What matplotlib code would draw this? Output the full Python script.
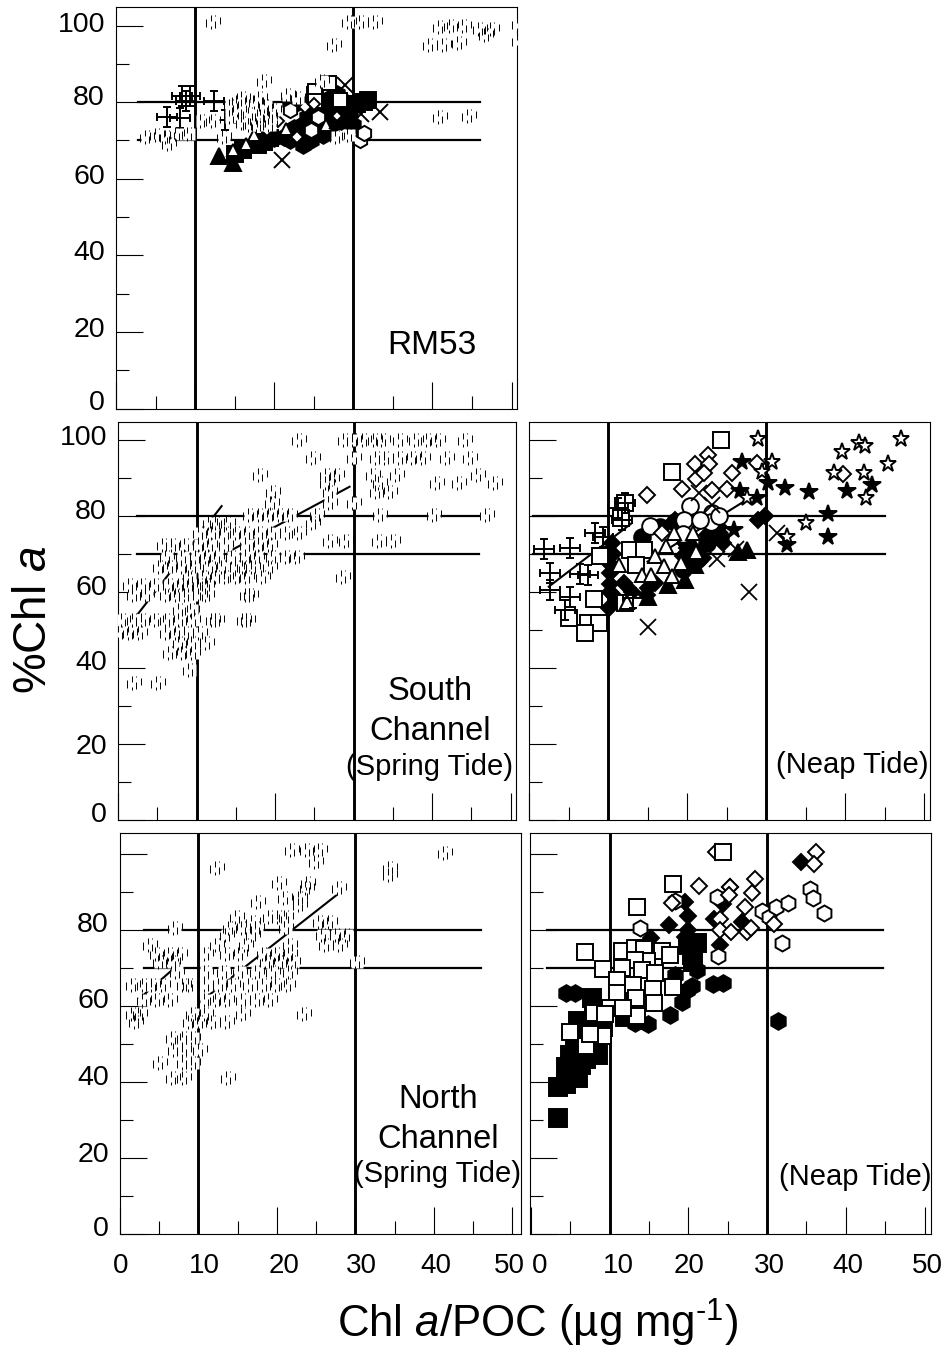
import matplotlib
matplotlib.use('Agg')
import matplotlib.pyplot as plt
from matplotlib.path import Path
from matplotlib.transforms import ScaledTranslation

plt.rcParams['font.family'] = ['Liberation Sans', 'DejaVu Sans']
plt.rcParams['mathtext.fontset'] = 'custom'
plt.rcParams['mathtext.rm'] = 'Liberation Sans'
plt.rcParams['mathtext.it'] = 'Liberation Sans:italic'

W, H = 945, 1347

x_major = [0, 10, 20, 30, 40, 50]
x_minor = [5, 15, 25, 35, 45]
y_major = [0, 20, 40, 60, 80, 100]
y_minor = [10, 30, 50, 70, 90]

# RM53
rm_filled_tri = [(13, 65.8), (14.8, 64)]
rm_open_tri = [(14.8, 67.5), (16.4, 69.1), (17.4, 71.4), (21.5, 73), (26.5, 74)]
rm_filled_sq = [(16.1, 67.5), (18, 68.8), (18.7, 69.7), (31.9, 80.6), (31.3, 80.1), (25.2, 81.9),
                (27.5, 80), (29.5, 78), (30.5, 79.5), (19.5, 70.5), (15, 66.5)]
rm_open_sq = [(26.9, 85), (25.2, 83), (25.2, 80.2), (28.3, 80.6)]
rm_filled_hex = [(22, 70.1), (23.7, 68.8), (21.2, 71), (26.2, 71.4), (24.6, 70.1), (25.4, 73.6), (27.5, 74.5),
                 (22.5, 73.2), (24.1, 76.2), (25.8, 79.7), (27.1, 78.8), (29.2, 79.7), (29.6, 77.1), (20, 70.5),
                 (23, 71.5), (24, 72.5), (26.5, 72.5), (27, 76), (28.5, 75), (23.5, 74), (26, 77), (30, 74),
                 (28.5, 78), (27, 81), (28, 82), (24.5, 78.5), (25, 75), (22, 80), (23, 80)]
rm_open_hex = [(22, 78), (24.6, 72.7), (25.6, 76.2), (30.9, 70.1), (31.3, 72)]
rm_open_dia = [(22.9, 71), (23.9, 78.8), (19.1, 72.7), (25, 79.5), (28, 76), (20.5, 75)]
rm_cross = [(8.4, 81.5), (8.9, 80.2), (9.3, 81.5), (12.4, 80.2), (6.5, 76.2), (8.1, 75.8), (13.8, 75.4)]
rm_x = [(21, 64.9), (33.4, 77.5), (29, 84.5), (31, 77), (28, 75)]
rm_speck = [(12.3, 100.8), (29.4, 100.8), (31, 100.8), (32.8, 100.8), (41, 99.5), (42.4, 100), (44, 100),
            (46, 99), (47.5, 99), (46.8, 97.5), (51, 100.5), (51, 96), (39.7, 95), (41.5, 95), (43.3, 95.5),
            (27.5, 95), (41, 76), (44.6, 76.5), (18.7, 85.5), (3.9, 71), (5.2, 71.5), (6.4, 71), (7.7, 71.8),
            (9.2, 71.8), (6.7, 69), (10.9, 75), (12.3, 75), (13.6, 71), (16, 81), (17.7, 80), (18.2, 81),
            (15.5, 78), (17, 77), (18.5, 76.5), (20, 78), (16, 74.5), (18, 74), (21.8, 81.9), (23, 81),
            (27.9, 71), (29.5, 71.5), (26, 85.5), (14.5, 79), (15.5, 80.5), (19, 79), (19.5, 76), (17, 74),
            (19.5, 74), (14.5, 76)]

# South channel, spring tide: (y, x values) per row
south_rows = [
    (100, [23, 28.9, 30, 31.3, 32.7, 33.8, 35.9, 38, 39.5, 40.8, 44.2]),
    (95.2, [24.9, 30, 33, 34.2, 35.9, 37.6, 38.9, 41.9, 44.8]),
    (90.8, [18.1, 45.9, 35.5, 32.5, 26.6, 27.9]),
    (88.6, [40.6, 43.4, 48, 33.4, 26.6]),
    (86.4, [19.8, 33, 34.7, 27]),
    (83.4, [19.6, 30, 27]),
    (80.3, [16.8, 18.1, 19.4, 20.6, 21.9, 25.3, 33.4, 40.2, 47]),
    (78.1, [24.9, 11.7, 12.6, 14]),
    (75.5, [10.4, 12.1, 13.8, 15.1, 16.4, 18.1, 19.8, 21.5, 23]),
    (73.3, [27, 29.1, 33.2, 35]),
    (72.4, [5.8, 7, 8.7, 10.4, 11.7, 13.8, 16.4, 18.1, 19.4]),
    (69.3, [6.2, 8.3, 10, 11.3, 12.6, 14.7, 16.4, 17.7, 19.8, 21.5, 22.8]),
    (66.7, [5.4, 6.6, 8.3, 9.6, 11.7, 13.4, 15.1, 16, 17.2, 19.4]),
    (64, [9.2, 10.9, 12.6, 13.8, 15.1, 16.4, 18.5, 28.7]),
    (61.9, [1.5, 3.2, 4.9, 6.6, 7.9, 9.2, 10.4, 11.3]),
    (59.2, [2, 3.7, 6.2, 7.5, 8.7, 10.4, 11.3, 16.4, 17]),
    (55.3, [7.9, 9.4]),
    (52.7, [0.7, 2, 3.2, 4.9, 6.2, 7.9, 9.6, 12.1, 12.6, 16, 16.6]),
    (49.2, [0.3, 1.5, 2.8, 6.2, 7.5, 8.7, 10.4]),
    (46.5, [7.9, 9.6, 11.3]),
    (43.9, [6.6, 8.3, 9.6]),
    (39.5, [9.2]),
    (36, [2, 5.1]),
]
south_lines = [((2.6, 54.4), (13.2, 82.6)), ((14, 70.5), (29.5, 87.7))]

# North channel, spring tide
north_rows = [
    (101, [21.9, 23.8, 25.5]),
    (100.2, [41.4]),
    (98, [25]),
    (96.2, [12.3, 34.4]),
    (94.5, [34.4]),
    (92.3, [20.2, 24]),
    (91, [23.8, 27.9]),
    (88.3, [21, 22.9]),
    (87.4, [17.6]),
    (86.6, [22.9]),
    (83.5, [14.9, 19.1, 20.2, 21.2]),
    (82.2, [17, 25.5, 26.8]),
    (80.4, [7, 14, 15.7, 17.4, 21.2]),
    (78.7, [13.6, 17, 25.9, 27.6, 28.9]),
    (76, [3.8, 12.3, 16.1, 21.7, 26.3, 28]),
    (73.8, [4.7, 6.4, 7.6, 11, 13.6, 15.3, 18.3, 20, 21.7]),
    (71.7, [5.1, 6.8, 18.7, 20.4, 22.1, 30.2]),
    (69, [7.2, 11, 13.2, 15.3, 17.4, 19.5, 21.7]),
    (65.5, [1.7, 3, 4.2, 5.5, 8.1, 8.9, 11, 12.7, 14.4, 16.6, 18.3, 20, 21.4]),
    (61.6, [3, 4.7, 6.4, 11, 12.3, 13.6, 15.7, 17.4, 19.1]),
    (58, [1.7, 2.5, 9.3, 11, 15.7, 23.4]),
    (55.9, [2.1, 8.9, 10.2, 11.9, 13.6]),
    (51.5, [6.8, 8.1, 9.3]),
    (48.4, [7, 8.1, 10.2]),
    (44.9, [5.1, 8.1, 9.3]),
    (41, [6.8, 8.1, 13.8]),
]
north_lines = [((2.5, 62), (7.6, 71.2)), ((10, 60.7), (27.6, 89.2))]

# South channel, neap tide
sn_open_star = [(29, 100.2), (47.1, 100.3), (41.8, 99.2), (42.5, 98.5), (39.6, 96.8), (30.7, 94.2), (45.4, 93.6),
                (29.5, 91.7), (38.6, 91.3), (42.4, 91.4), (27.6, 84.7), (42.7, 84.7), (35.1, 78.1), (32.7, 74.6)]
sn_filled_star = [(27, 94.3), (30.3, 88.6), (32.4, 87.5), (35.4, 86.4), (40.2, 86.6), (43.4, 88.2), (26.7, 86.7),
                  (28.8, 84.7), (37.9, 80.6), (37.8, 74.4), (32.6, 72.4), (25.9, 76.4)]
sn_open_dia = [(22.7, 96.1), (21, 93.7), (22.8, 93.7), (21.2, 89.7), (22.1, 91.3), (25.7, 91.3), (28.9, 93.9),
               (39.7, 91), (14.9, 85.6), (19.4, 87.1), (23.2, 86.9), (25.1, 87.1), (16.8, 75.5)]
sn_filled_dia = [(29, 79), (29.9, 79.9), (10.1, 55.7), (10.9, 58.8), (12, 62.3), (10.3, 65), (10, 69.3), (14.9, 59.2),
                 (23.8, 75), (18.5, 79), (20, 71.5), (19.5, 69.5), (10.4, 67), (10.5, 73), (10.2, 62), (10.3, 60),
                 (10.6, 70), (19.8, 73), (20.4, 72), (21, 71), (21.5, 68), (22, 69), (20, 66), (24, 77), (24.5, 73),
                 (22.5, 75), (16, 62.5), (15, 61), (13, 60)]
sn_open_sq = [(24.3, 100), (18.1, 91.7), (12.2, 83.4), (11.7, 79.4), (12.8, 71.1), (14.6, 71.1), (9, 69.5),
              (13.6, 67.2), (8.2, 58.2), (5.1, 53.1), (7.5, 51.8), (8.8, 51.8), (7.1, 49.3), (12.2, 57)]
sn_open_circ = [(20.4, 82.7), (23.2, 80.9), (19.6, 79), (23.1, 78.5), (15.3, 77.4), (24, 79.9), (19.5, 75.2), (21.6, 79)]
sn_filled_circ = [(14.3, 74.6), (16.6, 77.2), (18.5, 78.5), (20, 73), (22.5, 73), (24.2, 74.5), (19.5, 66)]
sn_filled_tri = [(27.6, 71.1), (17.6, 61.9), (19.8, 63.2), (15.1, 58.8), (21, 67.1), (19.7, 69.3), (26.5, 70.5)]
sn_open_tri = [(20.8, 75.5), (17.3, 72.1), (16, 69.5), (17.1, 66.9), (14.3, 64.5), (11.4, 67.1), (19.3, 67.6),
               (18.1, 64.2), (21.2, 70.6), (12.4, 57.5), (18.3, 75.5), (15.5, 64.5)]
sn_cross = [(1.9, 71.3), (5.2, 71.5), (2.7, 65.1), (2.6, 60.4), (6.5, 64.8), (7.5, 64.5), (5.2, 58.8), (4.6, 55.3),
            (12.2, 83.4), (11.3, 82), (8.4, 75.5), (9.4, 74.6), (11.8, 79), (13.2, 58.4)]
sn_x = [(27.8, 60.1), (15.1, 50.7), (31.4, 75.5), (23.8, 68.7), (26.2, 71.3), (21.5, 86), (23.2, 83)]
sn_lines = [((2.5, 61.4), (13, 78.1)), ((15, 68), (27.5, 84.2))]

# North channel, neap tide
nn_open_hex = [(13.9, 80.4), (23.8, 73.1), (31.9, 76.5), (29.3, 85), (30.2, 83.3), (31.1, 86), (32.6, 87),
               (35.4, 90.7), (35.8, 88.3), (37.2, 84.6), (18.3, 87.7), (23.6, 88.8)]
nn_filled_dia = [(34.3, 97.8), (19.6, 87.4), (19.9, 83.8), (17.5, 81.3), (15.3, 77.8), (19.6, 78.2), (20, 80),
                 (23.2, 83), (24.4, 86.8), (26.8, 82.2), (24, 76), (25.3, 91.4)]
nn_open_dia = [(23.5, 100.4), (36.2, 100.4), (35.9, 97.3), (28.5, 93.4), (25.3, 91.2), (21.3, 91.6), (28.1, 89.8),
               (17.9, 87.2), (27.2, 86), (24, 83), (24, 80), (25.4, 79.5), (27.4, 79.5), (28, 80.4), (30.9, 81.7),
               (25.1, 89.2)]
nn_open_sq = [(24.4, 100.4), (18.1, 92), (13.5, 86), (6.9, 74.1), (9.1, 69.7), (11.5, 74.5), (13.2, 75.2),
              (14.4, 74.9), (16.7, 74.5), (17.7, 73.4), (14.7, 71.9), (13.2, 72.1), (11.5, 70.1), (14.1, 69.5),
              (15.8, 68.8), (10.9, 66.8), (13, 65.5), (15.5, 64.5), (18, 64.9), (10.9, 63.3), (13.3, 62), (15.6, 60.7),
              (10.1, 59.6), (8, 58.2), (13.5, 57.3), (5, 53.2), (9.1, 52.2), (7, 49.5), (7.5, 52.6), (11.7, 59.4),
              (9.4, 58)]
nn_filled_sq = [(3.4, 38.8), (3.4, 30.4), (4.4, 39.6), (4.5, 44), (5.6, 44.5), (6.4, 44.5), (5.6, 48.8), (8.1, 48.8),
                (7.1, 54.5), (7.7, 62), (9.2, 54.5), (21.1, 76.5), (20.4, 73.4), (20.6, 71.7), (20, 76), (6.5, 50),
                (6, 56), (8, 57), (12, 57), (12.5, 64), (5, 42), (6, 41), (7, 46), (5, 47), (8, 52), (7, 50),
                (6.5, 47.5), (8.5, 47)]
nn_filled_hex = [(4.5, 63.3), (5.6, 63.3), (31.4, 56), (24.4, 66), (23.1, 65.7), (20.5, 65.3), (19.8, 64.2), (19.2, 61),
                 (17.7, 57.6), (14.9, 55.2), (13.2, 55.4), (21.1, 69.5), (18.3, 68.1), (6.9, 56.7)]


def cross_marker():
    # plus with short bars on its ends
    verts, codes = [], []
    for a, b in [((-1, 0), (1, 0)), ((0, -1), (0, 1)), ((-1, -.4), (-1, .4)), ((1, -.4), (1, .4)),
                 ((-.4, 1), (.4, 1)), ((-.4, -1), (.4, -1))]:
        verts += [a, b]
        codes += [Path.MOVETO, Path.LINETO]
    return Path(verts, codes)


def speck_marker():
    # broken-up symbol of the scan, only bits of vertical strokes are left
    segs = [(-.9, -.6, .35), (-.3, -.95, -.55), (-.3, .1, .95), (.3, -.75, .15), (.3, .75, .95), (.9, -.3, .6)]
    verts, codes = [], []
    for x, a, b in segs:
        verts += [(x, a), (x, b)]
        codes += [Path.MOVETO, Path.LINETO]
    return Path(verts, codes)


CROSS = cross_marker()
SPECK = speck_marker()


def make_axes(left, right, top, bottom, x0, xs, y0, ys):
    ax = fig.add_axes([left / W, 1 - bottom / H, (right - left) / W, (bottom - top) / H])
    ax.set_xlim((left - x0) / xs, (right - x0) / xs)
    ax.set_ylim((y0 - bottom) / ys, (y0 - top) / ys)
    ax.set_xticks(x_major)
    ax.set_xticks(x_minor, minor=True)
    ax.set_yticks(y_major)
    ax.set_yticks(y_minor, minor=True)
    ax.tick_params(which='major', direction='in', length=19.5, width=0.8, labelbottom=False, labelleft=False)
    ax.tick_params(which='minor', direction='in', length=9.5, width=0.8)
    for s in ax.spines.values():
        s.set_linewidth(0.8)
    return ax


def guides(ax, x1, x2):
    ax.axvline(10, color='k', lw=2.1, zorder=1)
    ax.axvline(30, color='k', lw=2.1, zorder=1)
    ax.plot([x1, x2], [80, 80], color='k', lw=1.6, zorder=1)
    ax.plot([x1, x2], [70, 70], color='k', lw=1.6, zorder=1)


def trend(ax, lines):
    for a, b in lines:
        ax.plot([a[0], b[0]], [a[1], b[1]], color='k', lw=1.5, zorder=1.5)


def pts(ax, data, marker, ms, filled=False, mew=1.4, z=3):
    xs = [p[0] for p in data]
    ys = [p[1] for p in data]
    ax.plot(xs, ys, ls='none', marker=marker, ms=ms, mew=mew, mec='k',
            mfc='k' if filled else 'white', zorder=z, clip_on=True)


def line_pts(ax, data, marker, ms, mew=1.4, z=3):
    ax.plot([p[0] for p in data], [p[1] for p in data], ls='none', marker=marker, ms=ms,
            mew=mew, mec='k', mfc='none', zorder=z)


def specks(ax, data, z=4):
    xs = [p[0] for p in data]
    ys = [p[1] for p in data]
    ax.plot(xs, ys, ls='none', marker='s', ms=8.5, mec='none', mfc='white', zorder=z)
    ax.plot(xs, ys, ls='none', marker=SPECK, ms=10.5, mew=0.7, mec='k', mfc='none', zorder=z + 0.1)


def from_rows(rows):
    return [(x, y) for y, row in rows for x in row]


def ylabels(ax, shifts, show_top=True):
    ax.tick_params(axis='y', which='major', labelleft=True, labelsize=20.5, pad=8)
    if not show_top:
        ax.set_yticklabels([str(v) for v in y_major[:-1]] + [''])
    for lab, dy in zip(ax.get_yticklabels(), shifts):
        lab.set_transform(lab.get_transform() + ScaledTranslation(0, dy / 100, fig.dpi_scale_trans))


def xlabels(ax, shifts):
    ax.tick_params(axis='x', which='major', labelbottom=True, labelsize=20, pad=14)
    for lab, dx in zip(ax.get_xticklabels(), shifts):
        lab.set_transform(lab.get_transform() + ScaledTranslation(dx / 100, 0, fig.dpi_scale_trans))


def label(px, py, s, size):
    fig.text(px / W, 1 - py / H, s, fontsize=size, ha='center', va='center')


fig = plt.figure(figsize=(W / 100, H / 100), dpi=100)

# top panel
ax = make_axes(116, 517, 7, 408.5, 115.5, 7.92, 408.5, 3.83)
guides(ax, 2.8, 46)
pts(ax, rm_filled_hex, 'h', 12, True, z=2.5)
pts(ax, rm_filled_sq, 's', 11.5, True, z=2.6)
pts(ax, rm_filled_tri, '^', 11, True, z=3)
pts(ax, rm_open_hex, 'h', 11)
pts(ax, rm_open_sq, 's', 10)
pts(ax, rm_open_tri, '^', 9)
pts(ax, rm_open_dia, 'D', 6.5)
line_pts(ax, rm_x, 'x', 11)
line_pts(ax, rm_cross, CROSS, 14)
specks(ax, rm_speck)
ylabels(ax, [8, 5, 5, 5, 7, 3])

# middle left
ax = make_axes(118, 516, 422, 820, 118, 7.85, 820, 3.8)
guides(ax, 2.4, 46)
trend(ax, south_lines)
specks(ax, from_rows(south_rows))
ylabels(ax, [8, 0, 8, 7, 7, 5])

# middle right
ax = make_axes(529, 930, 422, 820, 529, 7.9, 820, 3.8)
guides(ax, 0.5, 45)
trend(ax, sn_lines)
pts(ax, sn_filled_circ, 'o', 12, True)
pts(ax, sn_filled_dia, 'D', 8.5, True)
pts(ax, sn_filled_tri, '^', 12, True)
pts(ax, sn_open_sq, 's', 12)
pts(ax, sn_open_circ, 'o', 12)
pts(ax, sn_open_dia, 'D', 8)
pts(ax, sn_open_tri, '^', 10)
pts(ax, sn_filled_star, '*', 13, True)
pts(ax, sn_open_star, '*', 12.5)
line_pts(ax, sn_cross, CROSS, 14, z=3.5)
line_pts(ax, sn_x, 'x', 11, mew=1.3, z=3.5)

# bottom left
ax = make_axes(120, 521, 833, 1234, 120, 7.85, 1234, 3.8)
guides(ax, 3, 46)
trend(ax, north_lines)
specks(ax, from_rows(north_rows))
ylabels(ax, [8, 6, 7, 8, 8, 0], show_top=False)
xlabels(ax, [1, 6, 7, 6, 2, -3])

# bottom right
ax = make_axes(530, 931, 833, 1234, 531, 7.87, 1234, 3.8)
guides(ax, 2, 44.7)
pts(ax, nn_filled_sq, 's', 12.5, True)
pts(ax, nn_filled_hex, 'h', 12, True)
pts(ax, nn_filled_dia, 'D', 8.5, True)
pts(ax, nn_open_hex, 'h', 11.5)
pts(ax, nn_open_dia, 'D', 8)
pts(ax, nn_open_sq, 's', 11)
xlabels(ax, [9, 9, 1, 2, 2, 3])

label(432, 345, 'RM53', 24)
label(430, 691, 'South', 23.5)
label(430, 731, 'Channel', 23.5)
label(430, 767, '(Spring Tide)', 21)
label(852, 765, '(Neap Tide)', 21)
label(438, 1099, 'North', 23.5)
label(438, 1139, 'Channel', 23.5)
label(438, 1174, '(Spring Tide)', 21)
label(855, 1177, '(Neap Tide)', 21)
label(538, 1323, r'Chl $\mathit{a}$/POC (µg mg$^{\text{-1}}$)', 31.5)
fig.text(34 / W, 1 - 620 / H, r'%Chl $\mathit{a}$', fontsize=33, rotation=90, ha='center', va='center')

fig.savefig('out.png', dpi=100)
